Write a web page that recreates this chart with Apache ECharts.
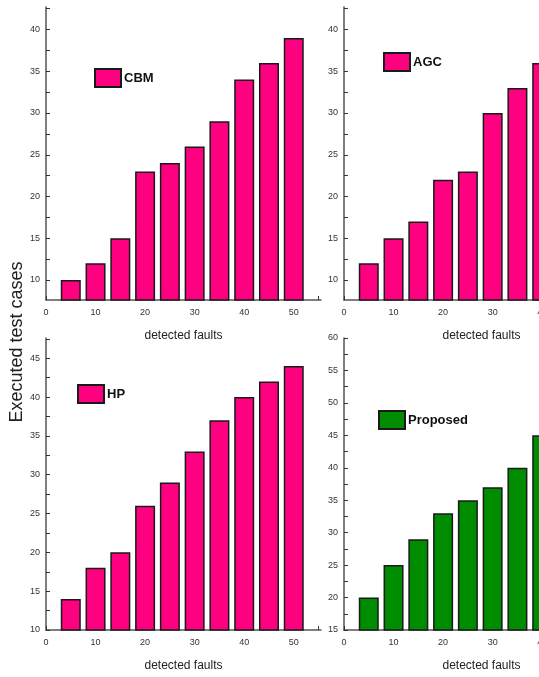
<!DOCTYPE html>
<html>
<head>
<meta charset="utf-8">
<script src="https://cdn.jsdelivr.net/npm/echarts@6/dist/echarts.min.js"></script>
<style>
html,body{margin:0;padding:0;background:#fff;}
#chart{width:539px;height:677px;}
</style>
</head>
<body>
<div id="chart"></div>
<script>
// ---- data ----
var detectedFaults = [5, 10, 15, 20, 25, 30, 35, 40, 45, 50];
var cbmValues = [10, 12, 15, 23, 24, 26, 29, 34, 36, 39];
var agcValues = [12, 15, 17, 22, 23, 30, 33, 36];
var hpValues = [14, 18, 20, 26, 29, 33, 37, 40, 42, 44];
var proposedValues = [20, 25, 29, 33, 35, 37, 40, 45];
var seriesNames = ['CBM', 'AGC', 'HP', 'Proposed'];

var xTickLabels = [0, 10, 20, 30, 40, 50];
var xTickMarks = [0, 5, 10, 15, 20, 25, 30, 35, 40, 45, 50, 55];
var yTickLabelsTop = [10, 15, 20, 25, 30, 35, 40];
var yTickMarksTop = [10, 12.5, 15, 17.5, 20, 22.5, 25, 27.5, 30, 32.5, 35, 37.5, 40, 42.5];
var yTickLabelsHP = [10, 15, 20, 25, 30, 35, 40, 45];
var yTickMarksHP = [10, 12.5, 15, 17.5, 20, 22.5, 25, 27.5, 30, 32.5, 35, 37.5, 40, 42.5, 45, 47.5];
var yTickLabelsProp = [15, 20, 25, 30, 35, 40, 45, 50, 55, 60];
var yTickMarksProp = [15, 17.5, 20, 22.5, 25, 27.5, 30, 32.5, 35, 37.5, 40, 42.5, 45, 47.5, 50, 52.5, 55, 57.5, 60];

var xRange = [0, 55.5];
var yRangeTop = [7.6, 42.7];
var yRangeHP = [10, 47.6];
var yRangeProp = [15, 60];

function pairs(xs, ys) {
  var out = [];
  for (var i = 0; i < ys.length; i++) out.push([xs[i], ys[i]]);
  return out;
}

var PINK = '#FF0080';
var GREEN = '#008C00';
var AXIS = '#555';
var FONT = '"Liberation Sans", Arial, sans-serif';

var grids = [
  {left: 46, top: 7, width: 275, height: 293, outerBoundsMode: 'none', containLabel: false},
  {left: 344, top: 7, width: 275, height: 293, outerBoundsMode: 'none', containLabel: false},
  {left: 46, top: 338, width: 275, height: 292, outerBoundsMode: 'none', containLabel: false},
  {left: 344, top: 338, width: 275, height: 292, outerBoundsMode: 'none', containLabel: false}
];

function mkX(i) {
  return {
    type: 'value', gridIndex: i, min: xRange[0], max: xRange[1],
    name: 'detected faults', nameLocation: 'middle', nameGap: 30,
    nameTextStyle: {fontFamily: FONT, fontSize: 12, color: '#222'},
    splitLine: {show: false},
    axisLine: {show: true, lineStyle: {color: AXIS, width: 1.5}},
    axisTick: {show: true, inside: true, length: 4, customValues: xTickMarks, lineStyle: {color: '#333', width: 1}},
    axisLabel: {customValues: xTickLabels, margin: 8, fontFamily: FONT, fontSize: 9, color: '#333'}
  };
}
function mkY(i, range, labels, marks) {
  return {
    type: 'value', gridIndex: i, min: range[0], max: range[1],
    splitLine: {show: false},
    axisLine: {show: true, onZero: false, lineStyle: {color: AXIS, width: 1.5}},
    axisTick: {show: true, inside: true, length: 4, customValues: marks, lineStyle: {color: '#333', width: 1}},
    axisLabel: {customValues: labels, margin: 6, fontFamily: FONT, fontSize: 9, color: '#333'}
  };
}
function mkBar(name, i, vals, color) {
  return {
    name: name, type: 'bar', xAxisIndex: i, yAxisIndex: i,
    data: pairs(detectedFaults, vals), barWidth: 20, clip: true,
    itemStyle: {color: color, borderColor: '#1a1a1a', borderWidth: 1.5},
    emphasis: {disabled: true}, animation: false
  };
}
function mkLegend(name, left, top) {
  return {
    data: [name], left: left, top: top, padding: 0, itemWidth: 26, itemHeight: 18, itemGap: 0,
    icon: 'rect', selectedMode: false,
    textStyle: {fontFamily: FONT, fontSize: 13, fontWeight: 'bold', color: '#111', padding: [0, 0, 0, -2]}
  };
}

var chart = echarts.init(document.getElementById('chart'), null, {renderer: 'canvas'});
chart.setOption({
  backgroundColor: '#fff',
  animation: false,
  grid: grids,
  xAxis: [mkX(0), mkX(1), mkX(2), mkX(3)],
  yAxis: [
    mkY(0, yRangeTop, yTickLabelsTop, yTickMarksTop),
    mkY(1, yRangeTop, yTickLabelsTop, yTickMarksTop),
    mkY(2, yRangeHP, yTickLabelsHP, yTickMarksHP),
    mkY(3, yRangeProp, yTickLabelsProp, yTickMarksProp)
  ],
  legend: [
    mkLegend(seriesNames[0], 94, 68),
    mkLegend(seriesNames[1], 383, 52),
    mkLegend(seriesNames[2], 77, 384),
    mkLegend(seriesNames[3], 378, 410)
  ],
  series: [
    mkBar(seriesNames[0], 0, cbmValues, PINK),
    mkBar(seriesNames[1], 1, agcValues, PINK),
    mkBar(seriesNames[2], 2, hpValues, PINK),
    mkBar(seriesNames[3], 3, proposedValues, GREEN)
  ],
  graphic: [{
    type: 'text', x: 8, y: 342, rotation: Math.PI / 2,
    style: {text: 'Executed test cases', fill: '#222', font: '18px "Liberation Sans", Arial, sans-serif',
            align: 'center', verticalAlign: 'top'}
  }]
});
</script>
</body>
</html>
